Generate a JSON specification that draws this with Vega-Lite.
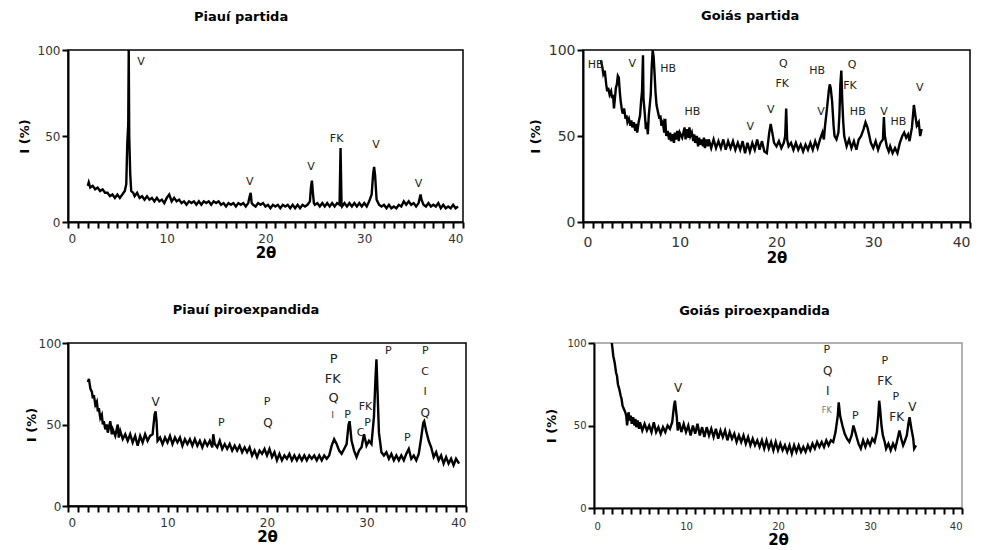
{
  "$schema": "https://vega.github.io/schema/vega-lite/v6.json",
  "background": "white",
  "padding": {"left": 17, "top": 9, "right": 5, "bottom": 0},
  "config": {
    "font": "DejaVu Sans",
    "view": {"stroke": "black", "strokeWidth": 1.5},
    "title": {"font": "DejaVu Sans", "fontSize": 13, "fontWeight": "bold", "color": "black", "offset": 20, "frame": "bounds", "anchor": "middle"},
    "axis": {
      "grid": false,
      "domainColor": "black",
      "domainWidth": 2,
      "ticks": true,
      "tickColor": "black",
      "tickWidth": 2,
      "tickSize": 6,
      "labelFont": "DejaVu Sans",
      "labelFontSize": 12,
      "labelColor": "#333",
      "labelOverlap": false,
      "titleFont": "DejaVu Sans",
      "titleFontWeight": "bold",
      "titleColor": "black"
    }
  },
  "datasets": {
    "a": [
      {"x":2.0,"y":21},{"x":2.1,"y":23},{"x":2.25,"y":20},{"x":2.5,"y":21},{"x":2.75,"y":19},{"x":3.0,"y":20},{"x":3.25,"y":18},{"x":3.5,"y":19},{"x":3.75,"y":17},{"x":4.0,"y":17},{"x":4.25,"y":15},{"x":4.5,"y":16},{"x":4.75,"y":14},{"x":5.0,"y":16},{"x":5.25,"y":14},{"x":5.5,"y":16},{"x":5.75,"y":18},{"x":5.9,"y":22},{"x":6.0,"y":45},{"x":6.1,"y":57},{"x":6.15,"y":100},{"x":6.2,"y":50},{"x":6.3,"y":28},{"x":6.4,"y":18},{"x":6.6,"y":17},{"x":6.75,"y":15},{"x":7.0,"y":17},{"x":7.25,"y":14},{"x":7.5,"y":15},{"x":7.75,"y":13},{"x":8.0,"y":15},{"x":8.25,"y":13},{"x":8.5,"y":14},{"x":8.75,"y":12},{"x":9.0,"y":14},{"x":9.25,"y":12},{"x":9.5,"y":13},{"x":9.75,"y":11},{"x":10.0,"y":14},{"x":10.25,"y":16},{"x":10.5,"y":12},{"x":10.75,"y":14},{"x":11.0,"y":12},{"x":11.25,"y":13},{"x":11.5,"y":11},{"x":11.75,"y":12},{"x":12.0,"y":10},{"x":12.25,"y":12},{"x":12.5,"y":11},{"x":12.75,"y":12},{"x":13.0,"y":10},{"x":13.25,"y":12},{"x":13.5,"y":10},{"x":13.75,"y":12},{"x":14.0,"y":11},{"x":14.25,"y":12},{"x":14.5,"y":10},{"x":14.75,"y":12},{"x":15.0,"y":11},{"x":15.25,"y":12},{"x":15.5,"y":10},{"x":15.75,"y":11},{"x":16.0,"y":9},{"x":16.25,"y":11},{"x":16.5,"y":10},{"x":16.75,"y":11},{"x":17.0,"y":9},{"x":17.25,"y":11},{"x":17.5,"y":10},{"x":17.75,"y":11},{"x":18.0,"y":9},{"x":18.25,"y":11},{"x":18.4,"y":15},{"x":18.5,"y":17},{"x":18.6,"y":11},{"x":18.75,"y":10},{"x":19.0,"y":9},{"x":19.25,"y":11},{"x":19.5,"y":10},{"x":19.75,"y":11},{"x":20.0,"y":9},{"x":20.25,"y":10},{"x":20.5,"y":8},{"x":20.75,"y":10},{"x":21.0,"y":9},{"x":21.25,"y":10},{"x":21.5,"y":8},{"x":21.75,"y":10},{"x":22.0,"y":9},{"x":22.25,"y":10},{"x":22.5,"y":8},{"x":22.75,"y":10},{"x":23.0,"y":8},{"x":23.25,"y":10},{"x":23.5,"y":8},{"x":23.75,"y":10},{"x":24.0,"y":9},{"x":24.25,"y":10},{"x":24.5,"y":12},{"x":24.6,"y":20},{"x":24.7,"y":24},{"x":24.8,"y":17},{"x":24.9,"y":11},{"x":25.0,"y":10},{"x":25.25,"y":11},{"x":25.5,"y":9},{"x":25.75,"y":11},{"x":26.0,"y":9},{"x":26.25,"y":11},{"x":26.5,"y":9},{"x":26.75,"y":11},{"x":27.0,"y":9},{"x":27.25,"y":11},{"x":27.5,"y":10},{"x":27.6,"y":43},{"x":27.7,"y":10},{"x":27.75,"y":9},{"x":28.0,"y":11},{"x":28.25,"y":9},{"x":28.5,"y":11},{"x":28.75,"y":9},{"x":29.0,"y":11},{"x":29.25,"y":9},{"x":29.5,"y":11},{"x":29.75,"y":9},{"x":30.0,"y":11},{"x":30.25,"y":9},{"x":30.5,"y":12},{"x":30.75,"y":16},{"x":30.9,"y":28},{"x":31.0,"y":32},{"x":31.1,"y":27},{"x":31.25,"y":13},{"x":31.5,"y":10},{"x":31.75,"y":9},{"x":32.0,"y":10},{"x":32.25,"y":8},{"x":32.5,"y":10},{"x":32.75,"y":8},{"x":33.0,"y":9},{"x":33.25,"y":8},{"x":33.5,"y":10},{"x":33.75,"y":9},{"x":34.0,"y":12},{"x":34.25,"y":10},{"x":34.5,"y":12},{"x":34.75,"y":10},{"x":35.0,"y":11},{"x":35.25,"y":9},{"x":35.5,"y":11},{"x":35.7,"y":16},{"x":35.8,"y":13},{"x":36.0,"y":10},{"x":36.25,"y":9},{"x":36.5,"y":11},{"x":36.75,"y":9},{"x":37.0,"y":10},{"x":37.25,"y":9},{"x":37.5,"y":11},{"x":37.75,"y":8},{"x":38.0,"y":10},{"x":38.25,"y":8},{"x":38.5,"y":9},{"x":38.75,"y":8},{"x":39.0,"y":10},{"x":39.25,"y":8},{"x":39.5,"y":9}
    ],
    "la": [
      {"x":7.4,"y":93,"t":"V"},{"x":18.4,"y":23,"t":"V"},{"x":24.6,"y":32,"t":"V"},{"x":27.2,"y":48,"t":"FK"},{"x":31.2,"y":45,"t":"V"},{"x":35.5,"y":22,"t":"V"}
    ],
    "b": [
      {"x":1.85,"y":94},{"x":2.0,"y":90},{"x":2.1,"y":86},{"x":2.25,"y":88},{"x":2.4,"y":80},{"x":2.5,"y":76},{"x":2.6,"y":78},{"x":2.75,"y":74},{"x":2.9,"y":76},{"x":3.0,"y":72},{"x":3.1,"y":74},{"x":3.2,"y":66},{"x":3.3,"y":72},{"x":3.4,"y":78},{"x":3.5,"y":80},{"x":3.6,"y":85},{"x":3.7,"y":84},{"x":3.8,"y":76},{"x":3.9,"y":70},{"x":4.0,"y":66},{"x":4.1,"y":63},{"x":4.25,"y":66},{"x":4.4,"y":60},{"x":4.5,"y":62},{"x":4.6,"y":58},{"x":4.75,"y":60},{"x":4.9,"y":56},{"x":5.0,"y":59},{"x":5.1,"y":55},{"x":5.25,"y":58},{"x":5.4,"y":53},{"x":5.5,"y":57},{"x":5.6,"y":52},{"x":5.75,"y":58},{"x":5.9,"y":62},{"x":6.0,"y":70},{"x":6.1,"y":76},{"x":6.2,"y":97},{"x":6.25,"y":72},{"x":6.4,"y":62},{"x":6.5,"y":54},{"x":6.6,"y":58},{"x":6.7,"y":51},{"x":6.8,"y":62},{"x":6.9,"y":68},{"x":7.0,"y":74},{"x":7.1,"y":90},{"x":7.2,"y":100},{"x":7.3,"y":96},{"x":7.4,"y":86},{"x":7.5,"y":75},{"x":7.6,"y":68},{"x":7.75,"y":64},{"x":7.9,"y":60},{"x":8.0,"y":62},{"x":8.1,"y":56},{"x":8.25,"y":58},{"x":8.4,"y":52},{"x":8.5,"y":60},{"x":8.6,"y":50},{"x":8.75,"y":53},{"x":8.9,"y":48},{"x":9.0,"y":52},{"x":9.1,"y":47},{"x":9.25,"y":51},{"x":9.4,"y":46},{"x":9.5,"y":52},{"x":9.6,"y":48},{"x":9.75,"y":53},{"x":9.9,"y":47},{"x":10.0,"y":52},{"x":10.25,"y":49},{"x":10.5,"y":55},{"x":10.6,"y":48},{"x":10.75,"y":54},{"x":10.9,"y":49},{"x":11.0,"y":55},{"x":11.1,"y":50},{"x":11.25,"y":52},{"x":11.4,"y":47},{"x":11.5,"y":51},{"x":11.6,"y":46},{"x":11.75,"y":50},{"x":11.9,"y":44},{"x":12.0,"y":49},{"x":12.1,"y":45},{"x":12.25,"y":48},{"x":12.4,"y":44},{"x":12.5,"y":49},{"x":12.6,"y":43},{"x":12.75,"y":48},{"x":12.9,"y":44},{"x":13.0,"y":48},{"x":13.25,"y":43},{"x":13.5,"y":48},{"x":13.75,"y":43},{"x":14.0,"y":47},{"x":14.25,"y":43},{"x":14.5,"y":48},{"x":14.75,"y":42},{"x":15.0,"y":47},{"x":15.25,"y":43},{"x":15.5,"y":47},{"x":15.75,"y":42},{"x":16.0,"y":46},{"x":16.25,"y":42},{"x":16.5,"y":47},{"x":16.75,"y":40},{"x":17.0,"y":46},{"x":17.25,"y":41},{"x":17.5,"y":46},{"x":17.75,"y":42},{"x":18.0,"y":48},{"x":18.25,"y":42},{"x":18.5,"y":47},{"x":18.75,"y":41},{"x":19.0,"y":40},{"x":19.25,"y":52},{"x":19.4,"y":57},{"x":19.5,"y":54},{"x":19.75,"y":46},{"x":20.0,"y":44},{"x":20.25,"y":47},{"x":20.5,"y":43},{"x":20.75,"y":46},{"x":20.9,"y":50},{"x":21.0,"y":66},{"x":21.1,"y":48},{"x":21.25,"y":44},{"x":21.5,"y":46},{"x":21.75,"y":42},{"x":22.0,"y":46},{"x":22.25,"y":42},{"x":22.5,"y":45},{"x":22.75,"y":41},{"x":23.0,"y":45},{"x":23.25,"y":42},{"x":23.5,"y":46},{"x":23.75,"y":42},{"x":24.0,"y":47},{"x":24.25,"y":43},{"x":24.5,"y":48},{"x":24.75,"y":52},{"x":24.9,"y":48},{"x":25.0,"y":55},{"x":25.2,"y":65},{"x":25.4,"y":76},{"x":25.5,"y":80},{"x":25.6,"y":78},{"x":25.75,"y":70},{"x":25.9,"y":56},{"x":26.0,"y":50},{"x":26.2,"y":48},{"x":26.4,"y":52},{"x":26.5,"y":62},{"x":26.6,"y":80},{"x":26.7,"y":88},{"x":26.8,"y":70},{"x":26.9,"y":58},{"x":27.0,"y":50},{"x":27.25,"y":44},{"x":27.5,"y":48},{"x":27.75,"y":43},{"x":28.0,"y":47},{"x":28.25,"y":42},{"x":28.5,"y":48},{"x":28.75,"y":50},{"x":29.0,"y":54},{"x":29.2,"y":58},{"x":29.4,"y":55},{"x":29.6,"y":50},{"x":29.75,"y":46},{"x":30.0,"y":43},{"x":30.25,"y":47},{"x":30.5,"y":42},{"x":30.75,"y":46},{"x":31.0,"y":48},{"x":31.1,"y":61},{"x":31.2,"y":50},{"x":31.4,"y":44},{"x":31.6,"y":41},{"x":31.75,"y":44},{"x":32.0,"y":40},{"x":32.25,"y":43},{"x":32.5,"y":40},{"x":32.75,"y":46},{"x":33.0,"y":50},{"x":33.2,"y":52},{"x":33.4,"y":49},{"x":33.6,"y":51},{"x":33.75,"y":47},{"x":34.0,"y":55},{"x":34.2,"y":68},{"x":34.3,"y":64},{"x":34.5,"y":56},{"x":34.7,"y":58},{"x":34.85,"y":50},{"x":35.0,"y":54}
    ],
    "lb": [
      {"x":1.3,"y":91,"t":"HB"},{"x":5.1,"y":92,"t":"V"},{"x":8.8,"y":89,"t":"HB"},{"x":11.3,"y":64,"t":"HB"},{"x":17.3,"y":55,"t":"V"},{"x":19.4,"y":65,"t":"V"},{"x":20.7,"y":92,"t":"Q"},{"x":20.6,"y":80,"t":"FK"},{"x":24.2,"y":88,"t":"HB"},{"x":24.6,"y":64,"t":"V"},{"x":27.8,"y":91,"t":"Q"},{"x":27.6,"y":79,"t":"FK"},{"x":28.4,"y":64,"t":"HB"},{"x":31.1,"y":64,"t":"V"},{"x":32.6,"y":58,"t":"HB"},{"x":34.8,"y":78,"t":"V"}
    ],
    "c": [
      {"x":2.0,"y":76},{"x":2.1,"y":78},{"x":2.25,"y":72},{"x":2.4,"y":70},{"x":2.5,"y":66},{"x":2.6,"y":68},{"x":2.75,"y":62},{"x":2.9,"y":64},{"x":3.0,"y":58},{"x":3.1,"y":60},{"x":3.25,"y":54},{"x":3.4,"y":56},{"x":3.5,"y":50},{"x":3.6,"y":52},{"x":3.75,"y":47},{"x":3.9,"y":50},{"x":4.0,"y":45},{"x":4.25,"y":52},{"x":4.4,"y":44},{"x":4.5,"y":47},{"x":4.75,"y":43},{"x":5.0,"y":50},{"x":5.1,"y":42},{"x":5.25,"y":46},{"x":5.5,"y":41},{"x":5.75,"y":44},{"x":6.0,"y":40},{"x":6.25,"y":44},{"x":6.5,"y":39},{"x":6.75,"y":43},{"x":7.0,"y":37},{"x":7.25,"y":43},{"x":7.5,"y":39},{"x":7.75,"y":44},{"x":8.0,"y":40},{"x":8.25,"y":43},{"x":8.5,"y":44},{"x":8.7,"y":56},{"x":8.8,"y":58},{"x":8.9,"y":52},{"x":9.0,"y":40},{"x":9.25,"y":42},{"x":9.5,"y":38},{"x":9.75,"y":42},{"x":10.0,"y":39},{"x":10.25,"y":43},{"x":10.5,"y":38},{"x":10.75,"y":42},{"x":11.0,"y":39},{"x":11.25,"y":42},{"x":11.5,"y":37},{"x":11.75,"y":41},{"x":12.0,"y":38},{"x":12.25,"y":41},{"x":12.5,"y":37},{"x":12.75,"y":41},{"x":13.0,"y":37},{"x":13.25,"y":40},{"x":13.5,"y":36},{"x":13.75,"y":40},{"x":14.0,"y":37},{"x":14.25,"y":40},{"x":14.5,"y":36},{"x":14.6,"y":44},{"x":14.75,"y":38},{"x":15.0,"y":36},{"x":15.25,"y":40},{"x":15.5,"y":35},{"x":15.75,"y":38},{"x":16.0,"y":35},{"x":16.25,"y":38},{"x":16.5,"y":34},{"x":16.75,"y":37},{"x":17.0,"y":34},{"x":17.25,"y":37},{"x":17.5,"y":33},{"x":17.75,"y":36},{"x":18.0,"y":33},{"x":18.25,"y":36},{"x":18.5,"y":31},{"x":18.75,"y":34},{"x":19.0,"y":30},{"x":19.25,"y":34},{"x":19.5,"y":32},{"x":19.75,"y":35},{"x":20.0,"y":31},{"x":20.25,"y":35},{"x":20.5,"y":30},{"x":20.75,"y":33},{"x":21.0,"y":28},{"x":21.25,"y":32},{"x":21.5,"y":28},{"x":21.75,"y":31},{"x":22.0,"y":29},{"x":22.25,"y":32},{"x":22.5,"y":28},{"x":22.75,"y":31},{"x":23.0,"y":28},{"x":23.25,"y":31},{"x":23.5,"y":28},{"x":23.75,"y":31},{"x":24.0,"y":28},{"x":24.25,"y":31},{"x":24.5,"y":29},{"x":24.75,"y":31},{"x":25.0,"y":28},{"x":25.25,"y":31},{"x":25.5,"y":28},{"x":25.75,"y":31},{"x":26.0,"y":29},{"x":26.25,"y":31},{"x":26.5,"y":37},{"x":26.75,"y":41},{"x":27.0,"y":38},{"x":27.25,"y":34},{"x":27.5,"y":32},{"x":27.75,"y":35},{"x":28.0,"y":38},{"x":28.2,"y":50},{"x":28.3,"y":52},{"x":28.5,"y":40},{"x":28.75,"y":34},{"x":29.0,"y":30},{"x":29.25,"y":34},{"x":29.5,"y":36},{"x":29.75,"y":44},{"x":29.9,"y":40},{"x":30.0,"y":37},{"x":30.25,"y":40},{"x":30.5,"y":38},{"x":30.75,"y":55},{"x":30.9,"y":78},{"x":31.0,"y":90},{"x":31.1,"y":72},{"x":31.25,"y":45},{"x":31.5,"y":33},{"x":31.75,"y":31},{"x":32.0,"y":33},{"x":32.25,"y":29},{"x":32.5,"y":32},{"x":32.75,"y":28},{"x":33.0,"y":31},{"x":33.25,"y":28},{"x":33.5,"y":31},{"x":33.75,"y":28},{"x":34.0,"y":32},{"x":34.25,"y":35},{"x":34.5,"y":29},{"x":34.75,"y":31},{"x":35.0,"y":28},{"x":35.25,"y":32},{"x":35.5,"y":42},{"x":35.7,"y":51},{"x":35.8,"y":52},{"x":36.0,"y":46},{"x":36.25,"y":40},{"x":36.5,"y":36},{"x":36.75,"y":30},{"x":37.0,"y":33},{"x":37.25,"y":28},{"x":37.5,"y":31},{"x":37.75,"y":26},{"x":38.0,"y":30},{"x":38.25,"y":26},{"x":38.5,"y":29},{"x":38.75,"y":25},{"x":39.0,"y":29},{"x":39.3,"y":26}
    ],
    "lc": [
      {"x":8.8,"y":64,"t":"V","s":12},{"x":15.4,"y":51,"t":"P","s":11},{"x":20.0,"y":64,"t":"P","s":11},{"x":20.1,"y":51,"t":"Q","s":12},{"x":26.7,"y":90,"t":"P","s":13},{"x":26.6,"y":78,"t":"FK","s":13},{"x":26.7,"y":66,"t":"Q","s":13},{"x":26.6,"y":55,"t":"I","s":8},{"x":28.1,"y":56,"t":"P","s":11},{"x":29.9,"y":61,"t":"FK","s":11},{"x":30.1,"y":51,"t":"P","s":11},{"x":29.4,"y":45,"t":"C","s":11},{"x":32.2,"y":95,"t":"P","s":11},{"x":35.9,"y":95,"t":"P","s":11},{"x":35.9,"y":82,"t":"C","s":11},{"x":35.9,"y":70,"t":"I","s":11},{"x":35.9,"y":57,"t":"Q","s":12},{"x":34.1,"y":42,"t":"P","s":11}
    ],
    "d": [
      {"x":1.85,"y":104},{"x":2.0,"y":97},{"x":2.1,"y":92},{"x":2.25,"y":88},{"x":2.4,"y":82},{"x":2.5,"y":80},{"x":2.6,"y":75},{"x":2.75,"y":72},{"x":2.9,"y":68},{"x":3.0,"y":66},{"x":3.1,"y":62},{"x":3.25,"y":60},{"x":3.4,"y":58},{"x":3.5,"y":56},{"x":3.6,"y":50},{"x":3.75,"y":58},{"x":3.9,"y":53},{"x":4.0,"y":56},{"x":4.1,"y":51},{"x":4.25,"y":55},{"x":4.4,"y":50},{"x":4.5,"y":54},{"x":4.6,"y":49},{"x":4.75,"y":53},{"x":4.9,"y":48},{"x":5.0,"y":52},{"x":5.25,"y":47},{"x":5.5,"y":51},{"x":5.75,"y":47},{"x":6.0,"y":50},{"x":6.25,"y":46},{"x":6.5,"y":52},{"x":6.75,"y":46},{"x":7.0,"y":49},{"x":7.25,"y":45},{"x":7.5,"y":49},{"x":7.75,"y":46},{"x":8.0,"y":50},{"x":8.25,"y":48},{"x":8.5,"y":52},{"x":8.7,"y":62},{"x":8.8,"y":65},{"x":8.9,"y":60},{"x":9.0,"y":55},{"x":9.1,"y":47},{"x":9.25,"y":52},{"x":9.5,"y":46},{"x":9.75,"y":51},{"x":10.0,"y":46},{"x":10.25,"y":50},{"x":10.5,"y":44},{"x":10.75,"y":50},{"x":11.0,"y":45},{"x":11.25,"y":51},{"x":11.5,"y":44},{"x":11.75,"y":49},{"x":12.0,"y":43},{"x":12.25,"y":49},{"x":12.5,"y":44},{"x":12.75,"y":48},{"x":13.0,"y":43},{"x":13.25,"y":48},{"x":13.5,"y":42},{"x":13.75,"y":47},{"x":14.0,"y":43},{"x":14.25,"y":47},{"x":14.5,"y":41},{"x":14.75,"y":46},{"x":15.0,"y":42},{"x":15.25,"y":45},{"x":15.5,"y":40},{"x":15.75,"y":44},{"x":16.0,"y":40},{"x":16.25,"y":44},{"x":16.5,"y":39},{"x":16.75,"y":43},{"x":17.0,"y":38},{"x":17.25,"y":42},{"x":17.5,"y":38},{"x":17.75,"y":41},{"x":18.0,"y":37},{"x":18.25,"y":41},{"x":18.5,"y":36},{"x":18.75,"y":41},{"x":19.0,"y":36},{"x":19.25,"y":40},{"x":19.5,"y":35},{"x":19.75,"y":40},{"x":20.0,"y":35},{"x":20.25,"y":39},{"x":20.5,"y":35},{"x":20.75,"y":38},{"x":21.0,"y":34},{"x":21.25,"y":38},{"x":21.5,"y":33},{"x":21.75,"y":38},{"x":22.0,"y":34},{"x":22.25,"y":38},{"x":22.5,"y":34},{"x":22.75,"y":37},{"x":23.0,"y":34},{"x":23.25,"y":38},{"x":23.5,"y":35},{"x":23.75,"y":39},{"x":24.0,"y":36},{"x":24.25,"y":40},{"x":24.5,"y":37},{"x":24.75,"y":40},{"x":25.0,"y":37},{"x":25.25,"y":41},{"x":25.5,"y":38},{"x":25.75,"y":41},{"x":26.0,"y":40},{"x":26.25,"y":46},{"x":26.5,"y":56},{"x":26.6,"y":64},{"x":26.75,"y":56},{"x":27.0,"y":50},{"x":27.25,"y":45},{"x":27.5,"y":42},{"x":27.75,"y":40},{"x":28.0,"y":44},{"x":28.2,"y":50},{"x":28.4,"y":46},{"x":28.6,"y":42},{"x":28.75,"y":39},{"x":29.0,"y":36},{"x":29.25,"y":41},{"x":29.5,"y":37},{"x":29.75,"y":41},{"x":30.0,"y":38},{"x":30.25,"y":42},{"x":30.5,"y":40},{"x":30.75,"y":46},{"x":30.9,"y":56},{"x":31.0,"y":65},{"x":31.1,"y":60},{"x":31.25,"y":50},{"x":31.4,"y":44},{"x":31.6,"y":40},{"x":31.75,"y":36},{"x":32.0,"y":39},{"x":32.25,"y":35},{"x":32.5,"y":39},{"x":32.75,"y":36},{"x":33.0,"y":42},{"x":33.2,"y":47},{"x":33.4,"y":42},{"x":33.6,"y":38},{"x":33.75,"y":40},{"x":34.0,"y":44},{"x":34.2,"y":52},{"x":34.3,"y":55},{"x":34.5,"y":48},{"x":34.7,"y":42},{"x":34.8,"y":36},{"x":35.0,"y":38}
    ],
    "ld": [
      {"x":9.15,"y":73,"t":"V","s":12,"c":"#222"},{"x":25.3,"y":96,"t":"P","s":11,"c":"#222"},{"x":25.4,"y":83,"t":"Q","s":12,"c":"#222"},{"x":25.4,"y":71,"t":"I","s":12,"c":"#222"},{"x":25.3,"y":59,"t":"FK","s":8,"c":"#777"},{"x":28.4,"y":56,"t":"P","s":11,"c":"#222"},{"x":31.6,"y":89,"t":"P","s":11,"c":"#222"},{"x":31.6,"y":77,"t":"FK","s":12,"c":"#222"},{"x":32.8,"y":67,"t":"P","s":11,"c":"#222"},{"x":32.9,"y":55,"t":"FK","s":12,"c":"#222"},{"x":34.6,"y":61,"t":"V","s":12,"c":"#222"}
    ]
  },
  "spacing": 37,
  "vconcat": [
    {
      "spacing": 63,
      "hconcat": [
        {
          "title": "Piauí partida",
          "width": 395, "height": 172,
          "encoding": {
            "x": {"field": "x", "type": "quantitative", "scale": {"domain": [0, 40]},
                  "axis": {"values": [0,1,2,3,4,5,6,7,8,9,10,11,12,13,14,15,16,17,18,19,20,21,22,23,24,25,26,27,28,29,30,31,32,33,34,35,36,37,38,39,40], "labelExpr": "datum.value % 10 === 0 ? datum.label : ''", "title": "2θ", "titleFontSize": 15, "titlePadding": 1, "labelPadding": 5}},
            "y": {"field": "y", "type": "quantitative", "scale": {"domain": [0, 100]},
                  "axis": {"values": [0, 50, 100], "title": "I (%)", "titleFontSize": 13, "titlePadding": 6}}
          },
          "layer": [
            {"data": {"name": "a"}, "mark": {"type": "line", "color": "black", "strokeWidth": 2.4}},
            {"data": {"name": "la"}, "mark": {"type": "text", "fontSize": 11, "fill": "#222", "align": "center", "baseline": "middle"}, "encoding": {"text": {"field": "t"}}}
          ]
        },
        {
          "title": "Goiás partida",
          "width": 387, "height": 172,
          "encoding": {
            "x": {"field": "x", "type": "quantitative", "scale": {"domain": [0, 40]},
                  "axis": {"values": [0,1,2,3,4,5,6,7,8,9,10,11,12,13,14,15,16,17,18,19,20,21,22,23,24,25,26,27,28,29,30,31,32,33,34,35,36,37,38,39,40], "labelExpr": "datum.value % 10 === 0 ? datum.label : ''", "title": "2θ", "titleFontSize": 15, "titlePadding": 1, "labelPadding": 7, "labelFontSize": 14}},
            "y": {"field": "y", "type": "quantitative", "scale": {"domain": [0, 100]},
                  "axis": {"values": [0, 50, 100], "title": "I (%)", "titleFontSize": 13, "titlePadding": 6, "labelFontSize": 14}}
          },
          "layer": [
            {"data": {"name": "b"}, "mark": {"type": "line", "color": "black", "strokeWidth": 2.4}},
            {"data": {"name": "lb"}, "mark": {"type": "text", "fontSize": 11, "fill": "#222", "align": "center", "baseline": "middle"}, "encoding": {"text": {"field": "t"}}}
          ]
        }
      ]
    },
    {
      "spacing": 77,
      "hconcat": [
        {
          "title": "Piauí piroexpandida",
          "width": 398, "height": 163,
          "encoding": {
            "x": {"field": "x", "type": "quantitative", "scale": {"domain": [0, 40]},
                  "axis": {"values": [0,1,2,3,4,5,6,7,8,9,10,11,12,13,14,15,16,17,18,19,20,21,22,23,24,25,26,27,28,29,30,31,32,33,34,35,36,37,38,39,40], "labelExpr": "datum.value % 10 === 0 ? datum.label : ''", "title": "2θ", "titleFontSize": 15, "titlePadding": 1, "labelPadding": 5}},
            "y": {"field": "y", "type": "quantitative", "scale": {"domain": [0, 100]},
                  "axis": {"values": [0, 50, 100], "title": "I (%)", "titleFontSize": 13, "titlePadding": 0, "labelPadding": 1}}
          },
          "layer": [
            {"data": {"name": "c"}, "mark": {"type": "line", "color": "black", "strokeWidth": 2.4}},
            {"data": {"name": "lc"}, "mark": {"type": "text", "fill": "#222", "align": "center", "baseline": "middle"}, "encoding": {"text": {"field": "t"}, "size": {"field": "s", "type": "quantitative", "scale": null}}}
          ]
        },
        {
          "title": "Goiás piroexpandida",
          "width": 368, "height": 165,
          "view": {"stroke": "#999", "strokeWidth": 1.5},
          "encoding": {
            "x": {"field": "x", "type": "quantitative", "scale": {"domain": [0, 40]},
                  "axis": {"values": [0,1,2,3,4,5,6,7,8,9,10,11,12,13,14,15,16,17,18,19,20,21,22,23,24,25,26,27,28,29,30,31,32,33,34,35,36,37,38,39,40], "labelExpr": "datum.value % 10 === 0 ? datum.label : ''", "title": "2θ", "titleFontSize": 15, "titlePadding": 1, "labelPadding": 7, "labelFontSize": 10}},
            "y": {"field": "y", "type": "quantitative", "scale": {"domain": [0, 100]},
                  "axis": {"values": [0, 50, 100], "title": "I (%)", "titleFontSize": 13, "titlePadding": 8, "labelFontSize": 10}}
          },
          "layer": [
            {"data": {"name": "d"}, "mark": {"type": "line", "color": "black", "strokeWidth": 2.4, "clip": true}},
            {"data": {"name": "ld"}, "mark": {"type": "text", "align": "center", "baseline": "middle"}, "encoding": {"text": {"field": "t"}, "size": {"field": "s", "type": "quantitative", "scale": null}, "fill": {"field": "c", "type": "nominal", "scale": null}}}
          ]
        }
      ]
    }
  ]
}
